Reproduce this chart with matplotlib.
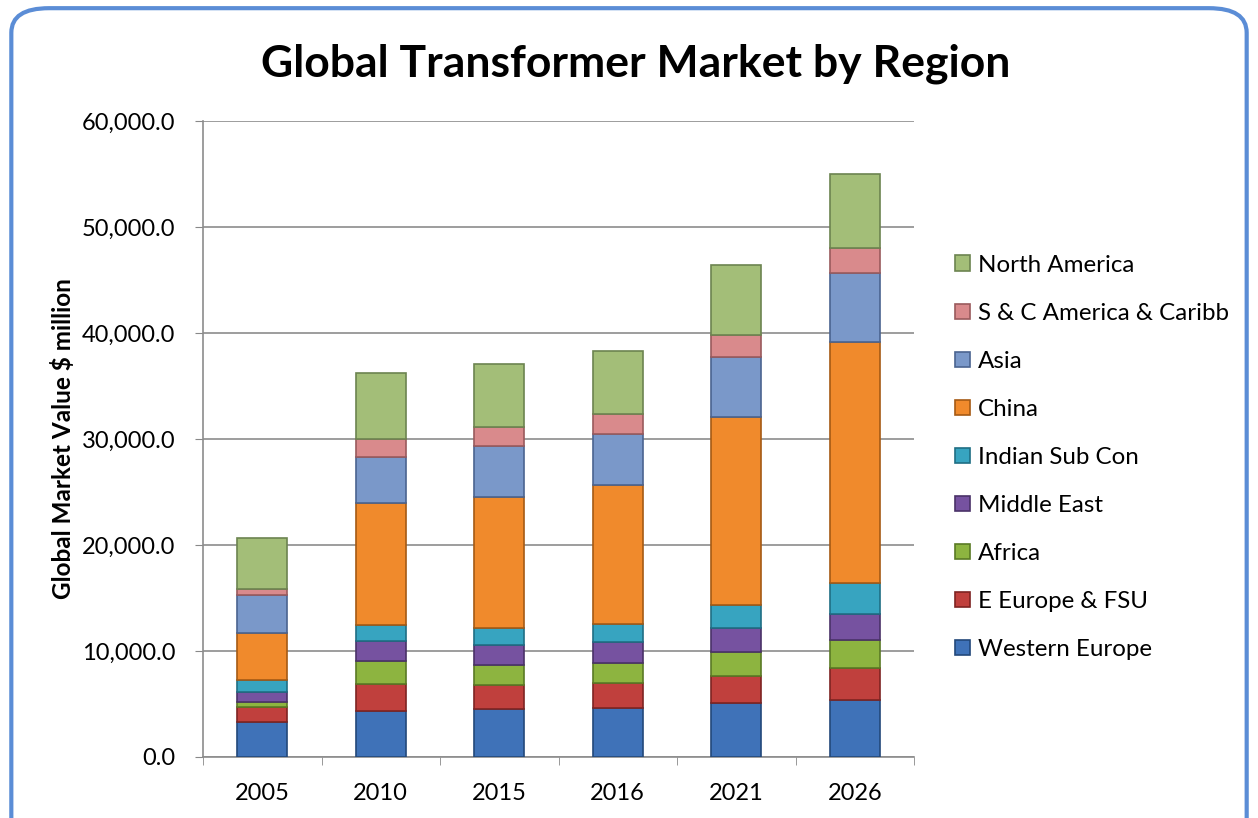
import matplotlib.pyplot as plt
import numpy as np
from matplotlib.patches import FancyBboxPatch

# ---------------- data (US$ million) ----------------
years = ["2005", "2010", "2015", "2016", "2021", "2026"]

regions = ["Western Europe", "E Europe & FSU", "Africa", "Middle East",
           "Indian Sub Con", "China", "Asia", "S & C America & Caribb",
           "North America"]

western_europe = [3300, 4300, 4530, 4600, 5070, 5380]
e_europe_fsu = [1400, 2560, 2270, 2350, 2570, 3000]
africa = [500, 2200, 1900, 1900, 2300, 2700]
middle_east = [900, 1900, 1850, 1950, 2200, 2450]
indian_sub_con = [1200, 1500, 1600, 1700, 2200, 2900]
china = [4400, 11500, 12400, 13200, 17700, 22700]
asia = [3600, 4300, 4800, 4800, 5700, 6500]
s_c_america = [550, 1700, 1800, 1900, 2100, 2400]
north_america = [4850, 6300, 5900, 5900, 6600, 7000]

series = [western_europe, e_europe_fsu, africa, middle_east, indian_sub_con,
          china, asia, s_c_america, north_america]

colors = ["#3F72B8", "#C0403D", "#8DB440", "#7652A0", "#37A4C0",
          "#F08A2C", "#7A98C9", "#D98A8C", "#A3BE78"]
edges = ["#23487A", "#7E2422", "#5A7A25", "#4A3268", "#1F6E84",
         "#A55A14", "#4A6490", "#9A5A5C", "#6C8450"]

plt.rcParams["font.family"] = ["Lato", "DejaVu Sans"]

fig = plt.figure(figsize=(12.58, 8.18), dpi=100)

# rounded blue frame
frame = FancyBboxPatch((0.009, -0.05), 0.982, 1.04,
                       boxstyle="round,pad=0,rounding_size=0.03",
                       transform=fig.transFigure, facecolor="none",
                       edgecolor="#5B8DD6", linewidth=3, zorder=-1)
fig.patches.append(frame)

ax = fig.add_axes([0.1614, 0.0746, 0.5652, 0.7775])
ax.set_facecolor("none")

x = np.arange(len(years))
bottom = np.zeros(len(years))
handles = []
for vals, name, c, ec in zip(series, regions, colors, edges):
    b = ax.bar(x, vals, width=0.42, bottom=bottom, color=c,
               edgecolor=ec, linewidth=1.2, label=name, zorder=3)
    handles.append(b)
    bottom += np.array(vals)

ax.set_xlim(-0.5, len(years) - 0.5)
ax.set_ylim(0, 60000)
ax.set_yticks(np.arange(0, 60001, 10000))
ax.set_yticklabels([f"{v:,.1f}" for v in np.arange(0, 60001, 10000)],
                   fontsize=17)
ax.set_xticks(x)
ax.set_xticklabels(years, fontsize=17)
ax.set_xticks(np.arange(-0.5, len(years), 1), minor=True)
ax.tick_params(axis="x", which="major", length=0, pad=19)
ax.tick_params(axis="x", which="minor", length=6, color="#888888")
ax.tick_params(axis="y", length=6, color="#888888", pad=14)

ax.yaxis.grid(True, color="#8C8C8C", linewidth=1.2, zorder=0)
ax.set_axisbelow(True)
for s in ["top", "right"]:
    ax.spines[s].set_visible(False)
for s in ["left", "bottom"]:
    ax.spines[s].set_color("#8C8C8C")
    ax.spines[s].set_linewidth(1.2)

ax.set_ylabel("Global Market Value $ million", fontsize=17.5,
              fontweight="bold", labelpad=5)

fig.suptitle("Global Transformer Market by Region", x=0.505, y=0.947,
             fontsize=32, fontweight="bold")

leg = ax.legend(handles[::-1], regions[::-1], loc="center left",
                bbox_to_anchor=(1.027, 0.471), frameon=False, fontsize=17.4,
                handlelength=0.6, handleheight=0.6, labelspacing=1.12,
                handletextpad=0.35)

fig.savefig("out.png", dpi=100)
